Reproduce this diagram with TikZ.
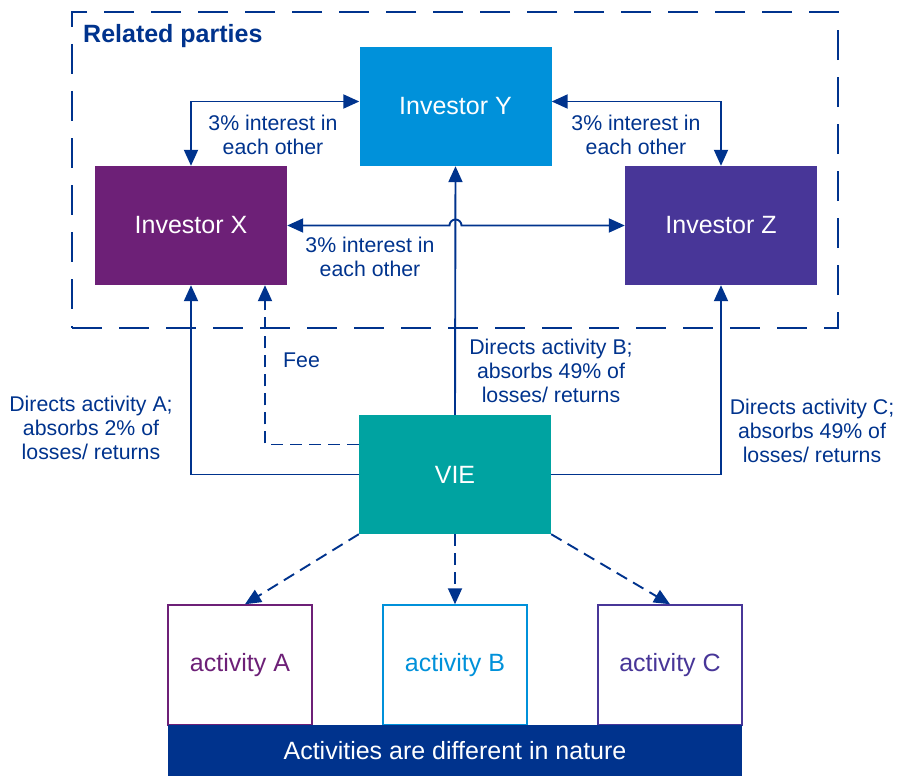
\documentclass[tikz,border=0pt]{standalone}
\usepackage{fontspec}
\setmainfont{Liberation Sans}
\usetikzlibrary{positioning,arrows.meta,calc}
\definecolor{kblue}{HTML}{00338D}
\definecolor{klight}{HTML}{0091DA}
\definecolor{kpurple}{HTML}{6D2077}
\definecolor{kviolet}{HTML}{483698}
\definecolor{kteal}{HTML}{00A3A1}
\begin{document}
\begin{tikzpicture}[x=1pt,y=-1pt,
  party/.style={rectangle,fill=#1,text=white,inner sep=0pt,minimum width=192pt,minimum height=119pt,font=\fontsize{25}{29}\selectfont},
  act/.style={rectangle,draw=#1,line width=1.5pt,fill=white,text=#1,inner sep=0pt,minimum width=144pt,minimum height=120pt,font=\fontsize{25}{29}\selectfont},
  link/.style={draw=kblue,line width=1.9pt},
  dsh/.style={dash pattern=on 12pt off 7pt},
  lab/.style={text=kblue,align=center,inner sep=0pt,font=\fontsize{21.3}{24}\selectfont},
  >={Triangle[length=16pt,width=14pt]}]
\useasboundingbox (0,0) rectangle (899,776);
% ---- related parties frame
\node[draw=kblue,line width=1.9pt,dash pattern=on 30pt off 17pt,minimum width=766pt,minimum height=316pt,inner sep=0pt] (rel) at (455,170) {};
\node[anchor=west,text=kblue,inner sep=0pt,font=\fontsize{25}{29}\selectfont\bfseries] (reltitle) at (83,36) {Related parties};
% ---- investors and VIE
\node[party=klight] (invy) at (455.5,106.5) {Investor Y};
\node[party=kpurple] (invx) at (191,225.5) {Investor X};
\node[party=kviolet] (invz) at (721,225.5) {Investor Z};
\node[party=kteal] (vie) at (455,474.5) {VIE};
% ---- activities
\node[act=kpurple] (acta) at (240,665) {activity A};
\node[act=klight] (actb) at (455,665) {activity B};
\node[act=kviolet] (actc) at (670,665) {activity C};
\node[fill=kblue,text=white,inner sep=0pt,minimum width=574pt,minimum height=51pt,font=\fontsize{25}{29}\selectfont] (bar) at (455,750.5) {Activities are different in nature};
% ---- interests between investors
\draw[link,<->] (invx.north) |- ([yshift=5pt]invy.west);
\node[lab] (lxy) at (273,135) {3\% interest in\\ each other};
\draw[link,<->] ([yshift=5pt]invy.east) -| (invz.north);
\node[lab] (lyz) at (636,135) {3\% interest in\\ each other};
\draw[link,<->] (invx.east) -- ($(invy.south |- invx.east)+(-6,0)$) arc[start angle=180,end angle=0,radius=6pt] -- (invz.west);
\node[lab] (lxz) at (370,257) {3\% interest in\\ each other};
% ---- VIE to investors
\draw[link,->] (vie.north) -- (invy.south);
\node[lab] (lb) at (551,371) {Directs activity B;\\ absorbs 49\% of\\ losses/ returns};
\draw[link,->] (vie.west) -| (invx.south);
\node[lab] (la) at (91,428) {Directs activity A;\\ absorbs 2\% of\\ losses/ returns};
\draw[link,dsh,->] ([yshift=30pt]vie.west) -| ([xshift=74pt]invx.south);
\node[lab,anchor=west] (fee) at (283,360) {Fee};
\draw[link,->] (vie.east) -| (invz.south);
\node[lab] (lc) at (812,431) {Directs activity C;\\ absorbs 49\% of\\ losses/ returns};
% ---- VIE to activities
\draw[link,dsh,->] (vie.south west) -- ([xshift=5pt]acta.north);
\draw[link,dsh,->] (vie.south) -- (actb.north);
\draw[link,dsh,->] (vie.south east) -- (actc.north);
\end{tikzpicture}
\end{document}
